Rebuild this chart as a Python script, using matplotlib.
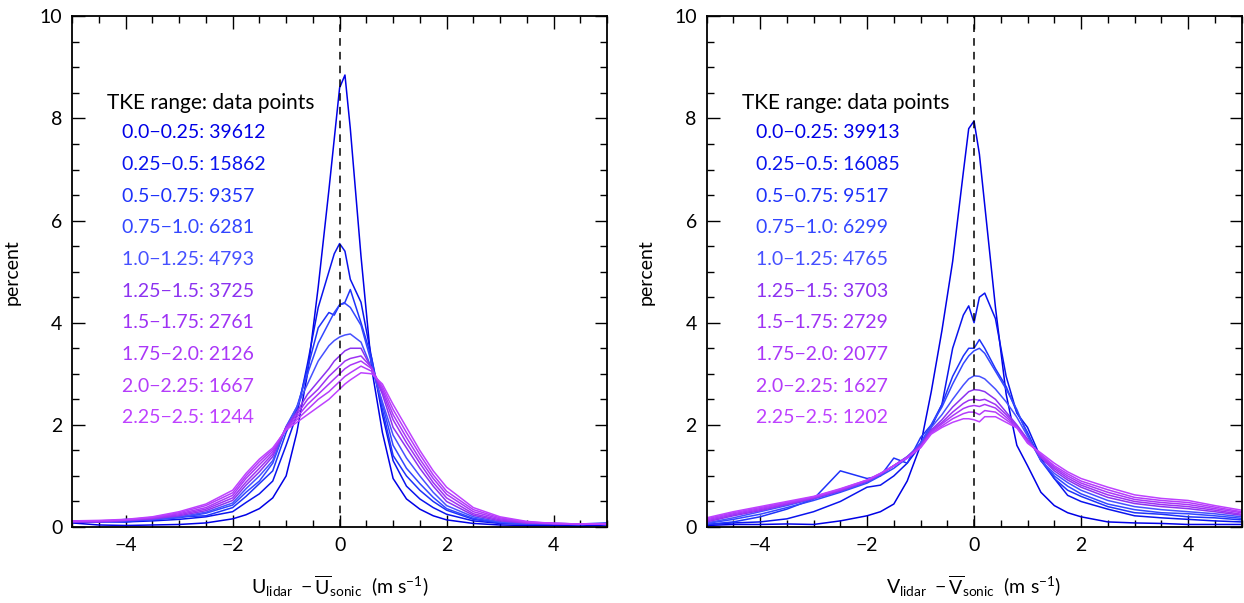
import matplotlib
matplotlib.use("Agg")
import matplotlib.pyplot as plt
from matplotlib.ticker import MultipleLocator

plt.rcParams['font.family'] = ['Lato', 'DejaVu Sans']
plt.rcParams['mathtext.fontset'] = 'custom'
plt.rcParams['mathtext.rm'] = 'Lato'
plt.rcParams['mathtext.it'] = 'Lato'

# bin centres (m/s)
x_bins = [-5, -4.5, -4, -3.5, -3, -2.5, -2, -1.75, -1.5, -1.25, -1, -0.8, -0.6, -0.4, -0.2, -0.1,
          0, 0.1, 0.2, 0.4, 0.6, 0.8, 1, 1.25, 1.5, 1.75, 2, 2.5, 3, 3.5, 4, 4.5, 5]

tke_ranges = ['0.0\u22120.25', '0.25\u22120.5', '0.5\u22120.75', '0.75\u22121.0', '1.0\u22121.25',
              '1.25\u22121.5', '1.5\u22121.75', '1.75\u22122.0', '2.0\u22122.25', '2.25\u22122.5']
u_counts = [39612, 15862, 9357, 6281, 4793, 3725, 2761, 2126, 1667, 1244]
v_counts = [39913, 16085, 9517, 6299, 4765, 3703, 2729, 2077, 1627, 1202]

colors = ['#0000e6', '#0a14ee', '#1e32fa', '#3246ff', '#4650ff',
          '#8c32f0', '#9e32f4', '#aa37f8', '#b43cfa', '#be41ff']

# percent of data points per bin, U component
u_pct = [
    [0.08, 0.04, 0.03, 0.04, 0.05, 0.08, 0.16, 0.24, 0.36, 0.57, 1.0, 1.85, 3.0, 4.7, 6.6, 7.6,
     8.6, 8.85, 7.8, 5.3, 3.1, 1.85, 0.95, 0.55, 0.35, 0.22, 0.14, 0.07, 0.04, 0.03, 0.03, 0.02, 0.04],
    [0.1, 0.1, 0.1, 0.12, 0.15, 0.2, 0.3, 0.48, 0.65, 0.9, 1.6, 2.2, 3.2, 4.3, 5.0, 5.35,
     5.55, 5.4, 4.85, 4.4, 3.3, 2.2, 1.3, 0.8, 0.55, 0.38, 0.25, 0.12, 0.07, 0.06, 0.05, 0.05, 0.06],
    [0.12, 0.12, 0.1, 0.15, 0.2, 0.22, 0.38, 0.6, 0.85, 1.1, 1.85, 2.3, 3.1, 3.9, 4.2, 4.15,
     4.35, 4.4, 4.65, 4.0, 3.3, 2.3, 1.4, 1.0, 0.72, 0.5, 0.33, 0.15, 0.08, 0.06, 0.06, 0.06, 0.08],
    [0.1, 0.1, 0.15, 0.14, 0.18, 0.27, 0.43, 0.68, 0.9, 1.25, 1.95, 2.35, 3.0, 3.6, 4.0, 4.2,
     4.35, 4.38, 4.3, 3.95, 3.2, 2.4, 1.6, 1.15, 0.85, 0.58, 0.36, 0.17, 0.09, 0.06, 0.07, 0.06, 0.06],
    [0.1, 0.1, 0.12, 0.15, 0.2, 0.29, 0.47, 0.75, 1.0, 1.3, 1.97, 2.35, 2.8, 3.25, 3.55, 3.65,
     3.72, 3.76, 3.78, 3.62, 3.1, 2.45, 1.8, 1.35, 1.0, 0.68, 0.42, 0.2, 0.1, 0.07, 0.06, 0.06, 0.06],
    [0.1, 0.1, 0.13, 0.16, 0.22, 0.32, 0.52, 0.82, 1.08, 1.38, 1.96, 2.25, 2.6, 2.85, 3.1, 3.25,
     3.35, 3.45, 3.5, 3.5, 3.1, 2.6, 1.95, 1.55, 1.15, 0.8, 0.5, 0.23, 0.12, 0.08, 0.06, 0.06, 0.06],
    [0.11, 0.11, 0.13, 0.17, 0.24, 0.35, 0.57, 0.88, 1.15, 1.43, 1.95, 2.2, 2.5, 2.7, 2.95, 3.05,
     3.15, 3.25, 3.3, 3.35, 3.12, 2.65, 2.1, 1.65, 1.25, 0.87, 0.57, 0.26, 0.14, 0.08, 0.07, 0.06, 0.06],
    [0.11, 0.11, 0.14, 0.18, 0.26, 0.38, 0.62, 0.95, 1.22, 1.48, 1.93, 2.15, 2.4, 2.6, 2.8, 2.9,
     3.0, 3.1, 3.17, 3.25, 3.1, 2.7, 2.2, 1.75, 1.33, 0.95, 0.64, 0.3, 0.16, 0.09, 0.07, 0.06, 0.06],
    [0.12, 0.12, 0.14, 0.19, 0.28, 0.42, 0.67, 1.0, 1.28, 1.52, 1.92, 2.1, 2.3, 2.5, 2.65, 2.75,
     2.85, 2.95, 3.02, 3.15, 3.05, 2.75, 2.3, 1.85, 1.42, 1.02, 0.7, 0.34, 0.18, 0.1, 0.07, 0.06, 0.06],
    [0.12, 0.13, 0.15, 0.2, 0.3, 0.45, 0.72, 1.05, 1.33, 1.55, 1.9, 2.05, 2.2, 2.35, 2.5, 2.6,
     2.7, 2.8, 2.88, 3.02, 3.0, 2.8, 2.4, 1.95, 1.5, 1.1, 0.78, 0.38, 0.2, 0.11, 0.07, 0.06, 0.06],
]

# percent of data points per bin, V component
v_pct = [
    [0.03, 0.05, 0.05, 0.06, 0.05, 0.12, 0.22, 0.3, 0.45, 0.9, 1.6, 2.65, 3.85, 5.2, 6.95, 7.8,
     7.95, 7.3, 6.3, 4.3, 2.6, 1.6, 1.2, 0.68, 0.42, 0.28, 0.2, 0.1, 0.08, 0.07, 0.05, 0.05, 0.05],
    [0.05, 0.08, 0.1, 0.16, 0.3, 0.5, 0.78, 0.82, 1.0, 1.25, 1.6, 1.95, 2.4, 3.5, 4.15, 4.33,
     4.0, 4.5, 4.58, 4.08, 2.95, 2.23, 1.95, 1.35, 0.95, 0.62, 0.5, 0.35, 0.22, 0.18, 0.15, 0.12, 0.1],
    [0.05, 0.1, 0.2, 0.35, 0.55, 1.1, 0.95, 1.0, 1.35, 1.25, 1.75, 2.0, 2.4, 2.95, 3.35, 3.5,
     3.5, 3.67, 3.5, 3.1, 2.75, 2.25, 1.85, 1.3, 0.95, 0.72, 0.6, 0.4, 0.28, 0.25, 0.2, 0.18, 0.14],
    [0.07, 0.15, 0.25, 0.38, 0.52, 0.68, 0.86, 1.0, 1.15, 1.35, 1.65, 2.0, 2.35, 2.8, 3.2, 3.35,
     3.45, 3.5, 3.4, 3.05, 2.7, 2.3, 1.8, 1.3, 1.0, 0.8, 0.65, 0.45, 0.34, 0.28, 0.26, 0.22, 0.17],
    [0.08, 0.18, 0.3, 0.42, 0.55, 0.7, 0.88, 1.02, 1.2, 1.38, 1.62, 1.95, 2.2, 2.5, 2.78, 2.9,
     2.96, 2.95, 2.9, 2.7, 2.45, 2.15, 1.78, 1.3, 1.05, 0.87, 0.72, 0.52, 0.4, 0.34, 0.3, 0.26, 0.2],
    [0.1, 0.22, 0.32, 0.44, 0.56, 0.71, 0.9, 1.03, 1.2, 1.37, 1.6, 1.9, 2.1, 2.35, 2.55, 2.65,
     2.69, 2.68, 2.65, 2.5, 2.25, 2.0, 1.72, 1.36, 1.1, 0.92, 0.78, 0.58, 0.46, 0.4, 0.36, 0.3, 0.23],
    [0.12, 0.24, 0.34, 0.45, 0.57, 0.72, 0.9, 1.04, 1.2, 1.37, 1.58, 1.88, 2.05, 2.25, 2.42, 2.48,
     2.5, 2.48, 2.5, 2.4, 2.2, 1.98, 1.7, 1.38, 1.14, 0.96, 0.82, 0.63, 0.5, 0.44, 0.4, 0.33, 0.25],
    [0.14, 0.26, 0.36, 0.47, 0.58, 0.73, 0.91, 1.04, 1.2, 1.36, 1.57, 1.86, 2.02, 2.18, 2.32, 2.36,
     2.38, 2.36, 2.4, 2.33, 2.15, 1.96, 1.68, 1.4, 1.17, 1.0, 0.86, 0.68, 0.54, 0.48, 0.44, 0.36, 0.28],
    [0.16, 0.28, 0.38, 0.48, 0.59, 0.74, 0.92, 1.05, 1.2, 1.36, 1.56, 1.84, 1.98, 2.12, 2.22, 2.25,
     2.25, 2.2, 2.28, 2.25, 2.1, 1.95, 1.66, 1.42, 1.2, 1.04, 0.9, 0.73, 0.58, 0.52, 0.48, 0.39, 0.3],
    [0.18, 0.3, 0.4, 0.5, 0.6, 0.75, 0.92, 1.05, 1.2, 1.35, 1.55, 1.82, 1.95, 2.05, 2.12, 2.12,
     2.1, 2.06, 2.16, 2.16, 2.05, 1.94, 1.64, 1.45, 1.25, 1.08, 0.95, 0.78, 0.63, 0.56, 0.52, 0.42, 0.33],
]

xlabels = [r'$\mathrm{U_{lidar}\ -\overline{U}_{sonic}}$  (m s$^{-1}$)',
           r'$\mathrm{V_{lidar}\ -\overline{V}_{sonic}}$  (m s$^{-1}$)']

fig = plt.figure(figsize=(12.44, 6.03), dpi=100)
ax1 = fig.add_axes([0.058, 0.126, 0.430, 0.847])
ax2 = fig.add_axes([0.568, 0.126, 0.430, 0.847])

for ax, pct, counts, xl in [(ax1, u_pct, u_counts, xlabels[0]), (ax2, v_pct, v_counts, xlabels[1])]:
    for i in range(len(pct)):
        ax.plot(x_bins, pct[i], color=colors[i], lw=1.1)
    ax.axvline(0, color='black', lw=1.1, linestyle=(0, (5, 4)))
    ax.set_xlim(-5, 5)
    ax.set_ylim(0, 10)
    ax.xaxis.set_major_locator(MultipleLocator(2))
    ax.xaxis.set_minor_locator(MultipleLocator(0.5))
    ax.yaxis.set_major_locator(MultipleLocator(2))
    ax.yaxis.set_minor_locator(MultipleLocator(0.5))
    ax.tick_params(which='both', direction='in', top=True, right=True, width=1.0, labelsize=14)
    ax.tick_params(which='major', length=9, pad=7)
    ax.tick_params(which='minor', length=5)
    for s in ax.spines.values():
        s.set_linewidth(1.3)
    ax.set_ylabel('percent', fontsize=14, labelpad=14)
    ax.set_xlabel(xl, fontsize=14, labelpad=14)

    ax.text(-4.34, 8.31, 'TKE range: data points', fontsize=15, va='center', ha='left')
    for i in range(len(counts)):
        ax.text(-4.07, 7.72 - i * 0.62, f'{tke_ranges[i]}: {counts[i]}', color=colors[i],
                fontsize=14, va='center', ha='left')

fig.savefig('out.png', dpi=100)
